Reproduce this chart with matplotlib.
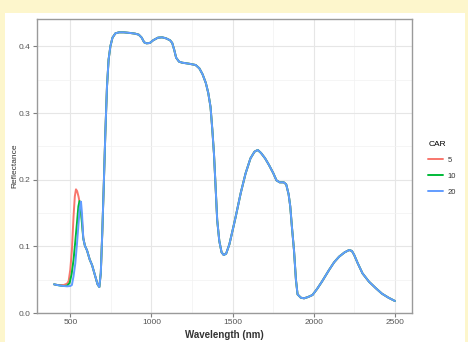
import matplotlib
matplotlib.use("Agg")
import matplotlib.pyplot as plt
from matplotlib.patches import Rectangle
import numpy as np

plt.rcParams['font.family'] = ['Liberation Sans', 'DejaVu Sans']

# Visible-range reflectance for each carotenoid level (CAR)
wl_car5 = [400, 420, 440, 460, 480, 490, 500, 510, 520, 528, 535, 542, 551, 562, 572, 580]
rf_car5 = [0.043, 0.042, 0.042, 0.042, 0.044, 0.048, 0.065, 0.0945, 0.1445, 0.175, 0.1855,
           0.183, 0.1745, 0.160, 0.140, 0.113]

wl_car10 = [400, 420, 440, 460, 480, 496, 508, 520, 530, 541, 550, 557, 563, 570, 580]
rf_car10 = [0.043, 0.042, 0.041, 0.0405, 0.041, 0.045, 0.058, 0.0795, 0.105, 0.1345,
            0.160, 0.168, 0.160, 0.140, 0.112]

wl_car20 = [400, 420, 440, 460, 480, 500, 510, 520, 531, 541, 551, 558, 566, 572, 580]
rf_car20 = [0.043, 0.042, 0.041, 0.0405, 0.040, 0.0405, 0.042, 0.055, 0.0745, 0.103,
            0.1345, 0.157, 0.167, 0.150, 0.112]

# Red-edge, NIR and SWIR part shared by all three levels
wl_shared = [590, 603, 620, 634, 654, 668, 679, 688, 697, 706, 716, 726, 736, 747, 760,
             778, 800, 830, 870, 900, 922, 940, 955, 970, 990, 1010, 1040, 1066, 1090,
             1115, 1128, 1140, 1152, 1170, 1189, 1230, 1272, 1295, 1315, 1335, 1350,
             1364, 1375, 1385, 1395, 1405, 1418, 1432, 1445, 1460, 1480, 1500, 1519,
             1550, 1580, 1610, 1635, 1655, 1675, 1700, 1724, 1750, 1770, 1790, 1815,
             1830, 1845, 1855, 1865, 1878, 1890, 1900, 1920, 1940, 1965, 1992, 2020,
             2050, 2094, 2125, 2156, 2190, 2218, 2235, 2249, 2270, 2300, 2340, 2383,
             2420, 2460, 2500]
rf_shared = [0.101, 0.094, 0.080, 0.072, 0.055, 0.043, 0.039, 0.060, 0.120, 0.189,
             0.270, 0.339, 0.380, 0.400, 0.413, 0.4195, 0.421, 0.421, 0.420, 0.419,
             0.4175, 0.413, 0.406, 0.4045, 0.405, 0.409, 0.413, 0.4135, 0.412, 0.409,
             0.405, 0.395, 0.383, 0.377, 0.3755, 0.374, 0.372, 0.367, 0.358, 0.345,
             0.330, 0.309, 0.275, 0.2395, 0.190, 0.1395, 0.108, 0.091, 0.087, 0.089,
             0.103, 0.124, 0.1445, 0.180, 0.2095, 0.232, 0.242, 0.2445, 0.240, 0.232,
             0.222, 0.210, 0.199, 0.196, 0.196, 0.193, 0.178, 0.160, 0.130, 0.0945,
             0.050, 0.028, 0.023, 0.022, 0.024, 0.027, 0.036, 0.047, 0.0645, 0.076,
             0.0845, 0.091, 0.0945, 0.093, 0.087, 0.075, 0.0595, 0.047, 0.037, 0.029,
             0.023, 0.018]

car_levels = ["5", "10", "20"]
car_colors = ["#F8766D", "#00BA38", "#619CFF"]
heads = [(wl_car5, rf_car5), (wl_car10, rf_car10), (wl_car20, rf_car20)]

x_ticks = [500, 1000, 1500, 2000, 2500]
y_ticks = [0.0, 0.1, 0.2, 0.3, 0.4]

W, H = 468, 342
fig = plt.figure(figsize=(W / 100, H / 100), dpi=100)
fig.patch.set_facecolor("#FDF6CC")
card = Rectangle((5 / W, 0), 460 / W, (H - 13) / H, transform=fig.transFigure,
                 facecolor="white", edgecolor="none", zorder=-10)
fig.add_artist(card)

ax = fig.add_axes([37 / W, 1 - 313 / H, (412 - 37) / W, (313 - 19) / H])
ax.set_zorder(5)
ax.set_facecolor("white")

for lvl, col, (hw, hr) in zip(car_levels, car_colors, heads):
    wl = np.array(list(hw) + wl_shared)
    rf = np.array(list(hr) + rf_shared)
    ax.plot(wl, rf, color=col, lw=1.4, label=lvl, solid_capstyle="round",
            solid_joinstyle="round")

ax.set_xlim(295, 2605)
ax.set_ylim(0.0, 0.441)
ax.set_xticks(x_ticks)
ax.set_xticklabels([str(t) for t in x_ticks])
ax.set_yticks(y_ticks)
ax.set_yticklabels([f"{t:.1f}" for t in y_ticks])
ax.set_xticks([750, 1250, 1750, 2250], minor=True)
ax.set_yticks([0.05, 0.15, 0.25, 0.35], minor=True)

ax.grid(which="major", color="#E6E6E6", lw=0.8)
ax.grid(which="minor", color="#F2F2F2", lw=0.5)
ax.set_axisbelow(True)
for s in ax.spines.values():
    s.set_color("#9A9A9A")
    s.set_linewidth(1.0)

ax.tick_params(which="major", length=3, width=0.8, color="#7F7F7F",
               labelsize=6, labelcolor="#555555", pad=1.5)
ax.tick_params(which="minor", length=0)

ax.set_xlabel("Wavelength (nm)", fontsize=7, fontweight="bold", color="#333333")
ax.set_ylabel("Reflectance", fontsize=6, color="#333333")
ax.xaxis.set_label_coords(0.5, (313 - 334.5) / 294)
ax.yaxis.set_label_coords((15 - 37) / 375, 0.5)
ax.xaxis.label.set_va("center")
ax.yaxis.label.set_va("center")

leg = ax.legend(title="CAR", loc="upper left", bbox_to_anchor=(1.035, 0.595), frameon=False,
                fontsize=5.5, title_fontsize=6, handlelength=1.9, handletextpad=0.6,
                labelspacing=1.15, borderaxespad=0)
leg._legend_box.align = "left"
leg._legend_box.sep = 6
for t in leg.get_texts():
    t.set_color("#333333")

fig.savefig("out.png", dpi=100, facecolor=fig.get_facecolor())
